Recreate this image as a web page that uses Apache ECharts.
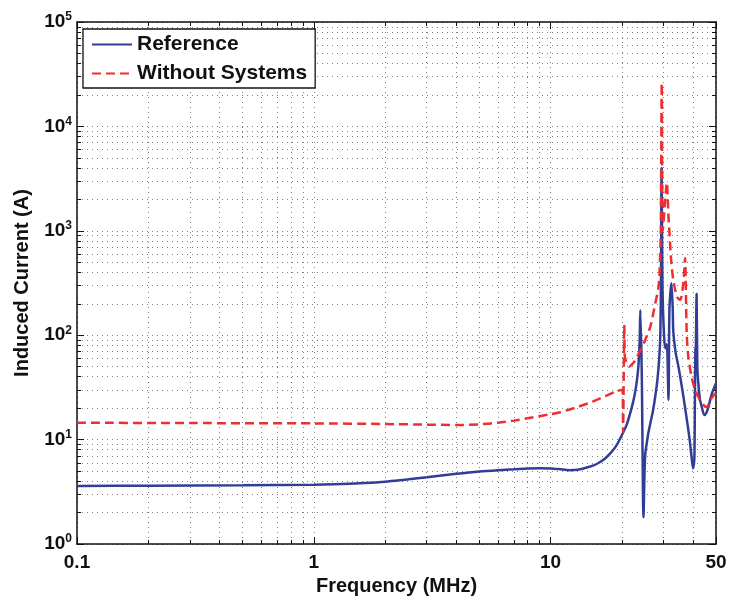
<!DOCTYPE html>
<html>
<head>
<meta charset="utf-8">
<script src="https://cdn.jsdelivr.net/npm/echarts@6/dist/echarts.min.js"></script>
<style>
  html, body { margin: 0; padding: 0; background: #fff; }
  #chart { width: 730px; height: 602px; }
</style>
</head>
<body>
<div id="chart"></div>
<script>
// Reference (blue, solid)
const freqRef = [0.1, 0.2, 0.5, 1, 1.5, 2, 3, 4, 5, 6, 7, 8, 9, 10, 11, 12, 13, 14, 15, 16, 17, 18, 19, 20, 21, 22,
  22.6, 23.1, 23.5, 23.8, 23.95, 24.3, 24.7, 25.1, 25.8, 26.4, 27.1, 27.7, 28.3, 28.75, 29.1, 29.3, 29.45, 29.7,
  30.1, 30.5, 31.0, 31.5, 31.8, 32.4, 32.8, 33.0, 33.7, 34.7, 35.5, 36.4, 37.3, 38.2, 38.8, 39.4, 40.0, 40.5,
  40.7, 40.9, 41.1, 41.4, 41.7, 42.1, 42.8, 43.5, 44.6, 45.5, 46.5, 47.9, 50]
const currentRef = [3.6, 3.62, 3.65, 3.7, 3.8, 3.95, 4.35, 4.7, 4.95, 5.1, 5.2, 5.3, 5.33, 5.3, 5.2, 5.1, 5.15, 5.35, 5.6, 6.0, 6.6, 7.5, 8.8, 11, 14, 20,
  26, 35, 50, 90, 174, 40, 1.8, 7, 11, 14.3, 19, 26, 38, 58, 104, 400, 4000, 300,
  110, 75, 82, 24, 182, 314, 190, 110, 70, 50, 37, 26, 18, 12.4, 9.5, 6.9, 5.3, 6.5,
  20, 72, 78, 250, 50, 34.6, 24, 20.7, 17.2, 18, 20.7, 27, 34.6]

// Without Systems (red, dashed)
const freqNoSys = [0.1, 0.3, 1, 2, 3, 4, 5, 6, 7, 8, 10, 11, 13, 15, 17, 19, 20.15, 20.25, 20.5, 20.6, 21.5, 22.5,
  24, 25, 26.4, 27.7, 28.6, 28.9, 29.2, 29.5, 29.8, 30.5, 31.0, 31.5, 31.8, 32.05, 32.4, 33.0, 34.2, 35.3, 36.4,
  37.0, 37.6, 38.2, 39.4, 40.8, 42.1, 44.2, 45.6, 47.9, 50]
const currentNoSys = [14.5, 14.4, 14.3, 14.1, 13.9, 13.8, 14.0, 14.5, 15.2, 16.0, 17.5, 18.3, 20.5, 23, 26, 29, 30, 11.8, 125, 62, 50, 55,
  72, 88, 121, 202, 290, 420, 870, 26000, 1000, 1970, 2900, 1350, 955, 700, 490, 340, 233, 218, 316,
  550, 105, 62, 40, 30, 25.6, 21.5, 20.5, 25, 28]

const seriesNames = ['Reference', 'Without Systems']
const xTickMin = 0.1
const xTickMax = 50
const yTickMin = 1
const yTickMax = 100000

const zip = (xs, ys) => xs.map((x, i) => [x, ys[i]])

const font = 'Liberation Sans, Arial, Helvetica, sans-serif'
const textColor = '#111'
// dotted grid, same for major and minor lines
const gridLineStyle = { color: '#808080', width: 1, type: [1, 4] }

const baseX = {
  type: 'log',
  logBase: 10,
  min: xTickMin,
  max: xTickMax,
  axisLine: { show: true, onZero: false, lineStyle: { color: '#111', width: 1.5 } },
  axisTick: { show: true, inside: true, length: 7, lineStyle: { color: '#111', width: 1 } },
  minorTick: { show: true, splitNumber: 9, length: 4, lineStyle: { color: '#111', width: 1 } },
}
const baseY = {
  type: 'log',
  logBase: 10,
  min: yTickMin,
  max: yTickMax,
  axisLine: { show: true, onZero: false, lineStyle: { color: '#111', width: 1.5 } },
  axisTick: { show: true, inside: true, length: 7, lineStyle: { color: '#111', width: 1 } },
  minorTick: { show: true, splitNumber: 9, length: 4, lineStyle: { color: '#111', width: 1 } },
}

const chart = echarts.init(document.getElementById('chart'), null, { renderer: 'canvas' })
chart.setOption({
  animation: false,
  backgroundColor: '#fff',
  grid: { left: 77, right: 14, top: 22, bottom: 58, outerBoundsMode: 'none' },
  legend: {
    data: seriesNames,
    orient: 'vertical',
    left: 83,
    top: 29,
    padding: [5, 8, 4, 8],
    itemWidth: 40,
    itemHeight: 20,
    itemGap: 8,
    // hide the symbol, keep the line sample
    itemStyle: { opacity: 0 },
    backgroundColor: '#fff',
    borderColor: '#111',
    borderWidth: 1.3,
    borderRadius: 0,
    textStyle: { fontFamily: font, fontWeight: 'bold', fontSize: 21, color: textColor },
    z: 10,
  },
  xAxis: [
    Object.assign({}, baseX, {
      position: 'bottom',
      name: 'Frequency (MHz)',
      nameLocation: 'middle',
      nameGap: 21,
      nameTextStyle: { fontFamily: font, fontWeight: 'bold', fontSize: 20, color: textColor },
      axisLabel: {
        show: true,
        margin: 9,
        fontFamily: font,
        fontWeight: 'bold',
        fontSize: 19,
        color: textColor,
        formatter: (v) => (v < 1 ? v.toFixed(1) : String(Math.round(v))),
      },
      splitLine: { show: true, lineStyle: gridLineStyle },
      minorSplitLine: { show: true, lineStyle: gridLineStyle },
    }),
    Object.assign({}, baseX, {
      position: 'top',
      axisLabel: { show: false },
      splitLine: { show: false },
    }),
  ],
  yAxis: [
    Object.assign({}, baseY, {
      position: 'left',
      name: 'Induced Current (A)',
      nameLocation: 'middle',
      nameGap: 45,
      nameTextStyle: { fontFamily: font, fontWeight: 'bold', fontSize: 20, color: textColor },
      axisLabel: {
        show: true,
        margin: 5,
        formatter: (v) => '{b|10}{s|' + Math.round(Math.log10(v)) + '}',
        rich: {
          b: { fontFamily: font, fontWeight: 'bold', fontSize: 19, lineHeight: 22, color: textColor },
          s: { fontFamily: font, fontWeight: 'bold', fontSize: 12, lineHeight: 12, verticalAlign: 'top', color: textColor },
        },
      },
      splitLine: { show: true, lineStyle: gridLineStyle },
      minorSplitLine: { show: true, lineStyle: gridLineStyle },
    }),
    Object.assign({}, baseY, {
      position: 'right',
      axisLabel: { show: false },
      splitLine: { show: false },
    }),
  ],
  series: [
    {
      name: seriesNames[0],
      type: 'line',
      data: zip(freqRef, currentRef),
      showSymbol: false,
      symbol: 'none',
      smooth: 0.25,
      z: 3,
      lineStyle: { color: '#323e96', width: 2.5, type: 'solid' },
      itemStyle: { color: '#323e96' },
    },
    {
      name: seriesNames[1],
      type: 'line',
      data: zip(freqNoSys, currentNoSys),
      showSymbol: false,
      symbol: 'none',
      smooth: 0.25,
      z: 4,
      lineStyle: { color: '#ee2f2f', width: 2.5, type: [9, 5] },
      itemStyle: { color: '#ee2f2f' },
    },
  ],
})
</script>
</body>
</html>
